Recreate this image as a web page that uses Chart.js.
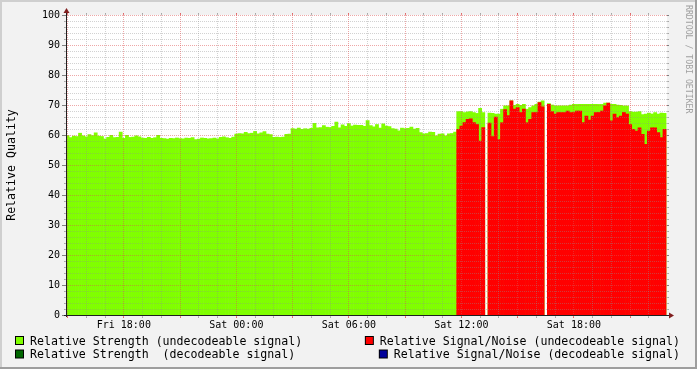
<!DOCTYPE html>
<html>
<head>
<meta charset="utf-8">
<title>Relative Quality</title>
<script src="https://cdn.jsdelivr.net/npm/chart.js@4.4.0/dist/chart.umd.min.js"></script>
<style>
  body { margin: 0; background: #f2f2f2; }
  canvas { display: block; }
</style>
</head>
<body>
<canvas id="canvas" width="697" height="369"></canvas>
<script>
// time is in hours counted from Fri 00:00, one slot every 10 minutes
var startHour = 15;
var slotsPerHour = 6;
var viewStart = 14.97;
var viewEnd = 46.965;

var tickHours = [18, 24, 30, 36, 42];
var tickLabels = ['Fri 18:00', 'Sat 00:00', 'Sat 06:00', 'Sat 12:00', 'Sat 18:00'];

// green area, slot 0 = Fri 15:00
var strengthUndecodeable = [
  59.8, 59.1, 59.6, 59.5, 60.6, 59.7, 59.4, 60.1, 59.8, 60.7, 59.6, 59.5,
  58.7, 59.2, 59.9, 59.1, 59.2, 61.0, 58.9, 59.9, 59.2, 59.3, 59.7, 59.4,
  59.0, 58.9, 59.2, 58.9, 59.1, 59.9, 58.9, 58.8, 58.6, 58.9, 58.8, 59.0,
  58.8, 58.7, 59.0, 58.9, 59.1, 58.5, 58.6, 59.0, 58.9, 58.7, 58.8, 59.0,
  58.7, 59.2, 59.4, 59.1, 58.9, 59.3, 60.3, 60.5, 60.4, 60.9, 60.5, 60.6,
  61.2, 60.4, 60.7, 61.1, 60.3, 60.1, 59.2, 59.3, 59.2, 59.3, 60.2, 60.3,
  62.1, 62.0, 62.3, 61.9, 62.1, 62.0, 62.2, 63.9, 62.4, 62.5, 63.1, 62.6,
  62.5, 62.9, 64.3, 62.4, 63.4, 62.9, 63.8, 63.0, 63.3, 63.2, 63.2, 62.9,
  64.8, 63.1, 62.7, 63.5, 62.3, 63.7, 63.0, 62.8, 62.1, 62.0, 61.4, 62.3,
  62.1, 62.2, 62.6, 62.0, 62.2, 60.8, 60.4, 60.5, 61.0, 60.9, 59.7, 60.3,
  60.4, 59.7, 60.4, 60.5, 61.0, 67.8, 67.8, 67.5, 67.7, 67.8, 67.5, 67.2,
  68.9, 67.5, null, 67.3, 67.2, 67.0, 67.0, 68.6, 69.7, 69.7, 71.4, 69.9,
  70.2, 69.9, 70.2, 68.6, 69.1, 69.7, 70.2, 71.0, 71.4, null, 70.5, 70.0,
  69.7, 69.7, 69.7, 69.7, 69.7, 70.0, 70.2, 70.2, 70.2, 70.2, 70.2, 70.2,
  70.2, 70.2, 70.2, 70.2, 70.6, 70.6, 70.2, 70.2, 70.0, 69.9, 69.7, 69.7,
  67.8, 67.6, 67.6, 67.8, 66.8, 67.0, 67.3, 67.0, 67.5, 67.0, 67.3, 67.2
];

// red area only exists from Sat 11:50 on
var snrFirstSlot = 125;
var snrUndecodeable = [
  61.9, 63.0, 64.1, 65.2, 65.4, 64.1, 63.5,
  58.0, 62.5, null, 64.0, 59.5, 66.0, 58.5, 64.1, 68.5, 66.5, 71.4, 68.6,
  69.1, 67.5, 68.6, 64.1, 65.2, 67.5, 67.5, 70.8, 69.4, null, 70.2, 67.8,
  67.0, 67.5, 67.5, 67.5, 68.0, 67.5, 67.5, 68.0, 68.0, 64.1, 66.3, 65.0,
  66.3, 67.5, 67.5, 68.0, 69.7, 70.6, 64.7, 67.0, 65.8, 66.3, 67.5, 67.0,
  63.5, 61.9, 61.3, 62.4, 60.2, 56.9, 61.3, 62.4, 62.4, 60.8, 59.1, 61.9
];

// nothing decodeable in this period
var strengthDecodeable = [];
var snrDecodeable = [];

function toPoints(values, firstSlot) {
  return values.map(function(v, i) {
    return { x: startHour + (firstSlot + i) / slotsPerHour, y: v };
  });
}

var mono = 'DejaVu Sans Mono';

// where each dataset goes in the legend (same order as datasets)
var legendSpots = [
  { x: 680, y: 344.5, align: 'right' },
  { x: 30, y: 344.5, align: 'left' },
  { x: 30, y: 358, align: 'left' },
  { x: 680, y: 358, align: 'right' }
];

var rrdLook = {
  id: 'rrdLook',
  beforeDraw: function(chart) {
    var ctx = chart.ctx, w = chart.width, h = chart.height, a = chart.chartArea;
    ctx.save();
    ctx.fillStyle = '#f2f2f2';
    ctx.fillRect(0, 0, w, h);
    ctx.fillStyle = '#cfcfcf';
    ctx.fillRect(0, 0, w, 2);
    ctx.fillRect(0, 0, 2, h);
    ctx.fillStyle = '#9e9e9e';
    ctx.fillRect(0, h - 2, w, 2);
    ctx.fillRect(w - 2, 0, 2, h);
    ctx.fillStyle = '#ffffff';
    ctx.fillRect(a.left, a.top, a.right - a.left, a.bottom - a.top);
    ctx.restore();
  },
  afterDatasetsDraw: function(chart) {
    var ctx = chart.ctx, a = chart.chartArea;
    var xs = chart.scales.x, ys = chart.scales.y;
    var grid = 'rgba(143,143,143,0.4)';
    var mgrid = 'rgba(222,79,79,0.5)';
    ctx.save();
    ctx.lineWidth = 1;
    ctx.setLineDash([1, 1]);
    for (var v = 2; v <= 100; v += 2) {
      var r = Math.round(ys.getPixelForValue(v));
      ctx.strokeStyle = v % 10 === 0 ? mgrid : grid;
      ctx.beginPath();
      ctx.moveTo(a.left - 3, r + 0.5);
      ctx.lineTo(a.right + 3, r + 0.5);
      ctx.stroke();
    }
    for (var hr = Math.ceil(viewStart); hr < viewEnd; hr++) {
      var c = Math.floor(xs.getPixelForValue(hr));
      ctx.strokeStyle = hr % 3 === 0 ? mgrid : grid;
      ctx.beginPath();
      ctx.moveTo(c + 0.5, a.top - 2);
      ctx.lineTo(c + 0.5, a.bottom + 3);
      ctx.stroke();
    }
    ctx.setLineDash([]);
    // small solid ticks
    for (v = 0; v <= 100; v += 2) {
      r = Math.round(ys.getPixelForValue(v));
      if (v % 10 === 0) {
        ctx.fillStyle = '#808080';
        ctx.fillRect(a.left - 5, r, 4, 1);
      } else {
        ctx.fillStyle = 'rgba(143,143,143,0.6)';
        ctx.fillRect(a.left - 3, r, 2, 1);
      }
      ctx.fillRect(a.right, r, 2, 1);
    }
    for (hr = Math.ceil(viewStart); hr < viewEnd; hr++) {
      c = Math.floor(xs.getPixelForValue(hr));
      ctx.fillStyle = hr % 3 === 0 ? 'rgba(222,79,79,0.7)' : 'rgba(143,143,143,0.6)';
      ctx.fillRect(c, a.bottom + 1, 1, 2);
      ctx.fillRect(c, a.top - 2, 1, 2);
    }
    // axes
    ctx.fillStyle = '#1f1f1f';
    ctx.fillRect(a.left - 1, a.top - 2, 1, a.bottom - a.top + 4);
    ctx.fillRect(a.left - 3, a.bottom, a.right - a.left + 5, 1);
    ctx.fillStyle = '#801f1f';
    ctx.beginPath();
    ctx.moveTo(a.left - 0.5, a.top - 7);
    ctx.lineTo(a.left - 3.5, a.top - 2);
    ctx.lineTo(a.left + 2.5, a.top - 2);
    ctx.closePath();
    ctx.fill();
    ctx.beginPath();
    ctx.moveTo(a.right + 7, a.bottom + 0.5);
    ctx.lineTo(a.right + 2, a.bottom - 2.5);
    ctx.lineTo(a.right + 2, a.bottom + 3.5);
    ctx.closePath();
    ctx.fill();
    ctx.restore();
  },
  afterDraw: function(chart) {
    var ctx = chart.ctx;
    ctx.save();
    ctx.font = '11.6px "' + mono + '"';
    ctx.textBaseline = 'alphabetic';
    chart.data.datasets.forEach(function(ds, i) {
      var spot = legendSpots[i];
      var tw = ctx.measureText(ds.label).width;
      var tx = spot.align === 'right' ? spot.x - tw : spot.x;
      var sx = tx - 15, sy = spot.y - 8.5;
      ctx.fillStyle = '#000';
      ctx.fillRect(sx, sy, 9, 9);
      ctx.fillStyle = ds.backgroundColor;
      ctx.fillRect(sx + 1, sy + 1, 7, 7);
      ctx.fillStyle = '#000';
      ctx.textAlign = 'left';
      ctx.fillText(ds.label, tx, spot.y);
    });
    // watermark
    ctx.translate(688, 5);
    ctx.rotate(Math.PI / 2);
    ctx.font = '8.2px "' + mono + '"';
    ctx.fillStyle = '#a0a0a0';
    ctx.textAlign = 'left';
    ctx.textBaseline = 'middle';
    ctx.fillText('RRDTOOL / TOBI OETIKER', 0, 0);
    ctx.restore();
  }
};

var ctx = document.getElementById('canvas').getContext('2d');
var myChart = new Chart(ctx, {
  type: 'bar',
  data: {
    datasets: [{
      label: 'Relative Signal/Noise (undecodeable signal)',
      data: toPoints(snrUndecodeable, snrFirstSlot),
      backgroundColor: '#ff0000',
      order: 0
    }, {
      label: 'Relative Strength (undecodeable signal)',
      data: toPoints(strengthUndecodeable, 0),
      backgroundColor: '#80ff00',
      order: 1
    }, {
      label: 'Relative Strength  (decodeable signal)',
      data: toPoints(strengthDecodeable, 0),
      backgroundColor: '#006600',
      order: 2
    }, {
      label: 'Relative Signal/Noise (decodeable signal)',
      data: toPoints(snrDecodeable, 0),
      backgroundColor: '#000099',
      order: 3
    }]
  },
  options: {
    responsive: false,
    devicePixelRatio: 1,
    animation: false,
    events: [],
    datasets: {
      bar: {
        grouped: false,
        barPercentage: 1,
        categoryPercentage: 1,
        borderWidth: 0
      }
    },
    layout: { padding: { left: 0, top: 15, right: 30, bottom: 0 } },
    plugins: {
      legend: { display: false },
      tooltip: { enabled: false }
    },
    scales: {
      x: {
        type: 'linear',
        min: viewStart,
        max: viewEnd,
        offset: false,
        grid: { display: false, drawTicks: false, offset: false },
        border: { display: false },
        ticks: {
          stepSize: 1,
          autoSkip: false,
          includeBounds: false,
          maxRotation: 0,
          padding: 4,
          color: '#000',
          font: { family: mono, size: 10 },
          callback: function(value) {
            var k = tickHours.indexOf(value);
            return k >= 0 ? tickLabels[k] : '';
          }
        },
        afterFit: function(scale) { scale.height = 54; }
      },
      y: {
        min: 0,
        max: 100,
        grid: { display: false, drawTicks: false },
        border: { display: false },
        ticks: {
          stepSize: 10,
          padding: 7,
          color: '#000',
          font: { family: mono, size: 10 }
        },
        title: {
          display: true,
          text: 'Relative Quality',
          color: '#000',
          font: { family: mono, size: 11.6 },
          padding: { top: 5, bottom: 0 }
        },
        afterFit: function(scale) { scale.width = 67; }
      }
    }
  },
  plugins: [rrdLook]
});
</script>
</body>
</html>
